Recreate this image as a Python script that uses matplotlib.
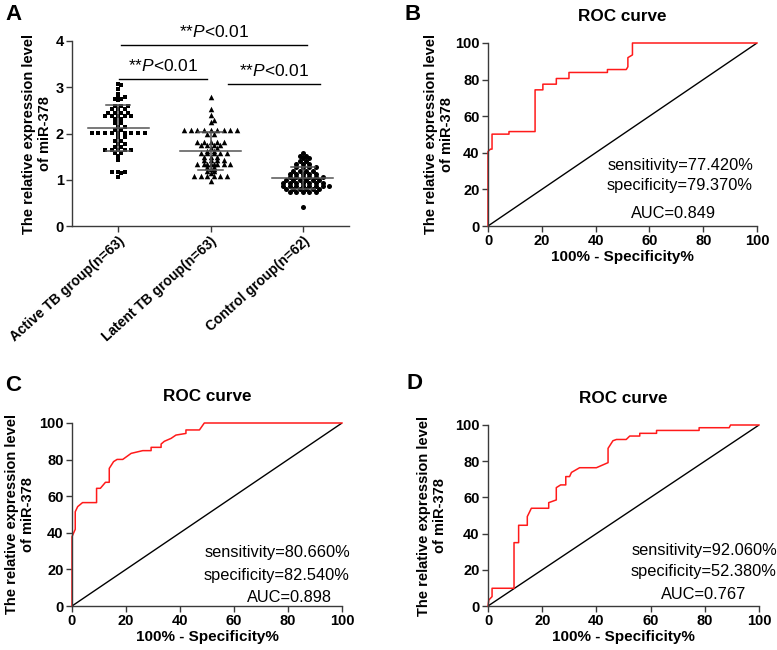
import numpy as np
import matplotlib
matplotlib.use("Agg")
import matplotlib.pyplot as plt

plt.rcParams['font.family'] = ['Liberation Sans', 'DejaVu Sans']
plt.rcParams['mathtext.fontset'] = 'custom'
plt.rcParams['mathtext.rm'] = 'Liberation Sans'
plt.rcParams['mathtext.it'] = 'Liberation Sans:italic'

# ---------------- data ----------------
groups = ["Active TB group(n=63)", "Latent TB group(n=63)", "Control group(n=62)"]

active = [3.08, 3.04, 2.96, 2.85, 2.79, 2.79, 2.74, 2.74, 2.72,
          2.60, 2.60, 2.60,
          2.52, 2.52, 2.52,
          2.45, 2.45, 2.45, 2.45,
          2.37, 2.37, 2.37, 2.37, 2.37,
          2.32, 2.32,
          2.22, 2.22,
          2.14, 2.14,
          2.07, 2.07,
          2.02, 2.02, 2.02, 2.02, 2.02, 2.02, 2.02, 2.02, 2.02,
          1.93, 1.93, 1.84, 1.84, 1.77, 1.77, 1.71, 1.71,
          1.65, 1.65, 1.65, 1.65, 1.65,
          1.57, 1.57, 1.51, 1.42,
          1.17, 1.17, 1.17, 1.14, 1.06]

latent = [2.78, 2.52, 2.40, 2.30, 2.25,
          2.07, 2.07, 2.07, 2.07, 2.07, 2.07, 2.07, 2.07, 2.07,
          2.00, 2.00,
          1.82, 1.82, 1.82, 1.82, 1.82,
          1.76, 1.76, 1.76, 1.76,
          1.68, 1.68, 1.62, 1.62,
          1.57, 1.57, 1.57, 1.57, 1.57,
          1.50, 1.50, 1.50,
          1.42, 1.42, 1.42, 1.42,
          1.35, 1.35,
          1.33, 1.33, 1.33, 1.33, 1.33, 1.33,
          1.28, 1.28, 1.24, 1.23, 1.19, 1.19, 1.15,
          1.09, 1.09, 1.09, 1.09, 1.09, 1.09,
          0.97]

control = [1.58, 1.52, 1.52, 1.46, 1.46,
           1.40, 1.40,
           1.33, 1.33, 1.33,
           1.27, 1.27, 1.27, 1.27,
           1.20, 1.20, 1.20, 1.20,
           1.13, 1.13, 1.13, 1.13, 1.13,
           1.07, 1.07, 1.07, 1.07, 1.07, 1.07,
           1.00, 1.00, 1.00, 1.00, 1.00, 1.00,
           0.93, 0.93, 0.93, 0.93, 0.93, 0.93, 0.93,
           0.86, 0.86, 0.86, 0.86, 0.86, 0.86, 0.86, 0.86,
           0.80, 0.80, 0.80, 0.80, 0.80, 0.80,
           0.74, 0.74, 0.74, 0.74, 0.74,
           0.42]

group_markers = ['s', '^', 'o']
sig_text = "**$P$<0.01"

# ROC curves (100 - specificity, sensitivity), in %
B_fpr = [0, 0, 0.9, 1.5, 1.5, 7.8, 7.8, 17.5, 17.5, 20.4, 20.4, 25.4, 25.4, 30.1, 30.1,
         44.4, 44.4, 51.4, 52.0, 52.0, 53.7, 53.7, 100]
B_tpr = [0, 40.7, 42, 42, 50.2, 50.2, 51.6, 51.6, 74.4, 74.4, 77.5, 77.5, 80.6, 80.6, 83.9,
         83.9, 85.5, 85.5, 87, 92, 93.5, 100, 100]

C_fpr = [0, 0, 1.2, 1.2, 2.1, 3.9, 9.1, 9.1, 10.5, 12.4, 13.8, 13.8, 15.4, 16.7, 18.8,
         21.9, 26.2, 29.3, 29.3, 33.0, 33.0, 34.2, 36.7, 38.5, 42.2, 42.2, 47.2, 49.0, 100]
C_tpr = [0, 37.9, 41.9, 51.5, 54.3, 56.5, 56.5, 64.3, 64.3, 67.6, 67.6, 75.2, 78.9, 80.1, 80.1,
         83.4, 84.9, 84.9, 86.7, 86.7, 88.5, 90.0, 91.6, 93.4, 94.3, 96.2, 96.2, 100, 100]

D_fpr = [0, 0.3, 1.5, 1.5, 9.6, 9.6, 11.3, 11.3, 14.5, 14.5, 16.0, 22.4, 22.4, 25.2, 25.2,
         26.8, 28.7, 28.7, 30.1, 30.8, 33.8, 40.0, 44.3, 44.3, 46.1, 47.4, 51.0, 52.3, 56.0,
         56.0, 62.2, 62.2, 77.9, 77.9, 89.0, 89.5, 100]
D_tpr = [0, 3.3, 5.2, 9.8, 9.8, 35.0, 35.0, 44.6, 44.6, 49.4, 54.0, 54.0, 57.1, 58.6, 65.4,
         66.9, 66.9, 71.5, 71.5, 73.8, 76.4, 76.4, 79.2, 87.1, 91.3, 92.0, 92.0, 93.9, 93.9,
         95.4, 95.4, 97.0, 97.0, 98.5, 98.5, 100, 100]

roc_stats = {
    'B': ["sensitivity=77.420%", "specificity=79.370%", "AUC=0.849"],
    'C': ["sensitivity=80.660%", "specificity=82.540%", "AUC=0.898"],
    'D': ["sensitivity=92.060%", "specificity=52.380%", "AUC=0.767"],
}
roc_ticks = [0, 20, 40, 60, 80, 100]
ylabel = "The relative expression level\nof miR-378"

# ---------------- figure ----------------
W, H = 777, 650
fig = plt.figure(figsize=(W / 100, H / 100), dpi=100)

def fax(l, t, r, b):
    return fig.add_axes([l / W, 1 - b / H, (r - l) / W, (b - t) / H])

axis_col = '#3a3a3a'

def style(ax, labelsize=10.5):
    for s in ['top', 'right']:
        ax.spines[s].set_visible(False)
    for s in ['left', 'bottom']:
        ax.spines[s].set_color(axis_col)
        ax.spines[s].set_linewidth(1.0)
    ax.tick_params(direction='out', length=4, width=1, color=axis_col,
                   labelsize=labelsize, pad=2)
    for lab in ax.get_xticklabels() + ax.get_yticklabels():
        lab.set_fontweight('bold')

def row_offsets(vals, spacing):
    """GraphPad-style scatter: equal values spread in a centred row,
    neighbouring rows staggered so markers interleave."""
    v = np.asarray(vals, dtype=float)
    offs = np.zeros_like(v)
    prev_par, prev_val, prev_shift = None, None, 0.0
    for u in np.unique(v):
        idx = np.where(v == u)[0]
        n = len(idx)
        shift = 0.0
        if prev_val is not None and abs(u - prev_val) < 0.09 and (n % 2) == prev_par:
            shift = 0.0 if prev_shift else spacing / 2
        offs[idx] = (np.arange(n) - (n - 1) / 2) * spacing + shift
        prev_par, prev_val, prev_shift = n % 2, u, shift
    return offs

# ---- Panel A ----
axA = fax(72, 41, 349, 226)
xpx = (349 - 72) / 3.0
sizes = {'s': 12, '^': 16, 'o': 13}
for gi, (vals, mk) in enumerate(zip([active, latent, control], group_markers)):
    v = np.array(vals)
    xs = gi + row_offsets(v, 6.6 / xpx)
    axA.scatter(xs, v, marker=mk, s=sizes[mk], color='black',
                linewidths=0, zorder=3, clip_on=False)
    m, sd = v.mean(), v.std(ddof=1)
    lc = '#555555'
    axA.plot([gi - 0.33, gi + 0.33], [m, m], color=lc, lw=1.1, zorder=4)
    axA.plot([gi - 0.13, gi + 0.13], [m + sd, m + sd], color=lc, lw=1.1, zorder=4)
    axA.plot([gi - 0.13, gi + 0.13], [m - sd, m - sd], color=lc, lw=1.1, zorder=4)
    axA.plot([gi, gi], [m - sd, m + sd], color=lc, lw=1.1, zorder=4)

sig_y = [3.91, 3.17, 3.06]
sig_x = [(0.03, 2.04), (0.01, 0.96), (1.19, 2.19)]
for (x0, x1), y in zip(sig_x, sig_y):
    axA.plot([x0, x1], [y, y], color='black', lw=1.0, clip_on=False)
    axA.text((x0 + x1) / 2, y + 0.12, sig_text, ha='center', va='bottom',
             fontsize=12.5, clip_on=False)

axA.set_xlim(-0.5, 2.5)
axA.set_ylim(0, 4)
axA.set_yticks([0, 1, 2, 3, 4])
axA.set_xticks([0, 1, 2])
axA.set_xticklabels(groups, rotation=42, ha='right', rotation_mode='anchor')
axA.set_ylabel(ylabel, fontsize=10.5, fontweight='bold')
axA.yaxis.set_label_coords(-20 / (349 - 72), 0.5)
style(axA)
for lab in axA.get_xticklabels():
    lab.set_fontsize(10)

# ---- ROC panels ----
def roc_panel(ax, fpr, tpr, stats, stat_pos, label_dx):
    ax.plot([0, 100], [0, 100], color='black', lw=1.0)
    ax.plot(fpr, tpr, color='#ff1a1a', lw=1.1, clip_on=False)
    ax.set_xlim(0, 100)
    ax.set_ylim(0, 100)
    ax.set_xticks(roc_ticks)
    ax.set_yticks(roc_ticks)
    ax.set_title("ROC curve", fontsize=12.3, fontweight='bold', pad=16)
    ax.set_xlabel("100% - Specificity%", fontsize=11, fontweight='bold', labelpad=1)
    ax.set_ylabel(ylabel, fontsize=10.5, fontweight='bold')
    bb = ax.get_position()
    ax.yaxis.set_label_coords(label_dx / (bb.width * W), 0.5)
    for txt, (x, y) in zip(stats, stat_pos):
        ax.text(x, y, txt, ha='center', va='center', fontsize=11.8, clip_on=False)
    style(ax)

axB = fax(488, 43, 757, 226)
roc_panel(axB, B_fpr, B_tpr, roc_stats['B'], [(71.4, 33.3), (71.4, 21.9), (69, 7.1)], -34)

axC = fax(72, 423, 342, 606)
roc_panel(axC, C_fpr, C_tpr, roc_stats['C'], [(76, 29), (75.6, 16.4), (80.7, 4.4)], -37)

axD = fax(488, 425, 759, 606)
roc_panel(axD, D_fpr, D_tpr, roc_stats['D'], [(79.7, 30.5), (79.7, 18.8), (79.7, 6.6)], -41)

# panel letters
for letter, (x, y) in zip("ABCD", [(5, 4), (405, 4), (5, 375), (407, 373)]):
    fig.text(x / W, 1 - y / H, letter, fontsize=16, fontweight='bold', va='top', ha='left')

fig.savefig("out.png", dpi=100)
